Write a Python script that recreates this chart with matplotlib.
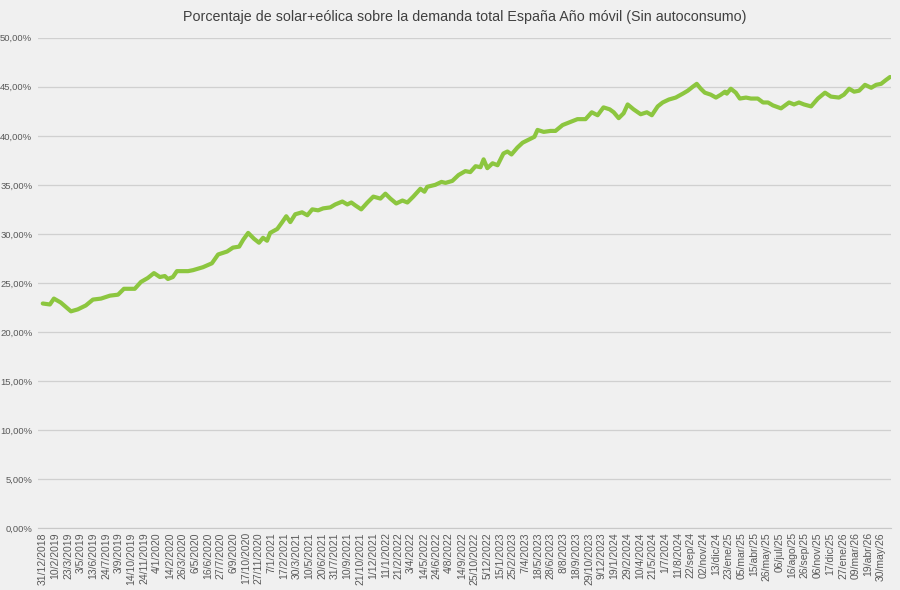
import matplotlib
matplotlib.use("Agg")
import matplotlib.pyplot as plt
from matplotlib.ticker import FuncFormatter

# days since 31/12/2018 and % of demand covered by solar+wind (rolling year)
days = [0, 23, 36, 58, 91, 113, 139, 162, 188, 217, 243, 262, 297, 317, 339, 359,
        378, 394, 404, 420, 433, 469, 485, 517, 546, 566, 595, 614, 634, 647, 663,
        682, 698, 711, 724, 734, 757, 773, 786, 799, 815, 837, 854, 870, 889, 905,
        928, 944, 967, 983, 996, 1009, 1028, 1048, 1067, 1090, 1106, 1122, 1141,
        1161, 1177, 1196, 1219, 1232, 1241, 1267, 1287, 1300, 1322, 1342, 1364,
        1380, 1397, 1413, 1423, 1435, 1452, 1468, 1487, 1500, 1513, 1532, 1549,
        1568, 1587, 1597, 1617, 1639, 1655, 1678, 1694, 1710, 1726, 1752, 1772,
        1791, 1810, 1830, 1843, 1859, 1875, 1888, 1907, 1930, 1950, 1966, 1985,
        2001, 2021, 2043, 2066, 2082, 2098, 2111, 2124, 2137, 2156, 2173, 2189,
        2202, 2208, 2221, 2237, 2250, 2270, 2286, 2308, 2325, 2341, 2357, 2383,
        2409, 2425, 2441, 2457, 2480, 2502, 2525, 2544, 2570, 2586, 2603, 2619,
        2635, 2654, 2674, 2690, 2706, 2722, 2735]
share = [22.9, 22.8, 23.4, 23.0, 22.1, 22.3, 22.7, 23.3, 23.4, 23.7, 23.8, 24.4,
         24.4, 25.1, 25.5, 26.0, 25.6, 25.7, 25.4, 25.6, 26.2, 26.2, 26.3, 26.6,
         27.0, 27.9, 28.2, 28.6, 28.7, 29.4, 30.1, 29.5, 29.1, 29.6, 29.3, 30.1,
         30.5, 31.2, 31.8, 31.2, 32.0, 32.2, 31.9, 32.5, 32.4, 32.6, 32.7, 33.0,
         33.3, 33.0, 33.2, 32.9, 32.5, 33.2, 33.8, 33.6, 34.1, 33.6, 33.1, 33.4,
         33.2, 33.8, 34.6, 34.3, 34.8, 35.0, 35.3, 35.2, 35.4, 36.0, 36.4, 36.3,
         36.9, 36.8, 37.6, 36.7, 37.2, 37.0, 38.2, 38.4, 38.1, 38.8, 39.3, 39.6,
         39.9, 40.6, 40.4, 40.5, 40.5, 41.1, 41.3, 41.5, 41.7, 41.7, 42.4, 42.1,
         42.9, 42.7, 42.4, 41.8, 42.3, 43.2, 42.7, 42.2, 42.4, 42.1, 43.0, 43.4,
         43.7, 43.9, 44.3, 44.6, 45.0, 45.3, 44.8, 44.4, 44.2, 43.9, 44.2, 44.5,
         44.3, 44.8, 44.4, 43.8, 43.9, 43.8, 43.8, 43.4, 43.4, 43.1, 42.8, 43.4,
         43.2, 43.4, 43.2, 43.0, 43.8, 44.4, 44.0, 43.9, 44.2, 44.8, 44.5, 44.6,
         45.2, 44.9, 45.2, 45.3, 45.7, 46.0]

tick_labels = ["31/12/2018", "10/2/2019", "23/3/2019", "3/5/2019", "13/6/2019",
               "24/7/2019", "3/9/2019", "14/10/2019", "24/11/2019", "4/1/2020",
               "14/2/2020", "26/3/2020", "6/5/2020", "16/6/2020", "27/7/2020",
               "6/9/2020", "17/10/2020", "27/11/2020", "7/1/2021", "17/2/2021",
               "30/3/2021", "10/5/2021", "20/6/2021", "31/7/2021", "10/9/2021",
               "21/10/2021", "1/12/2021", "11/1/2022", "21/2/2022", "3/4/2022",
               "14/5/2022", "24/6/2022", "4/8/2022", "14/9/2022", "25/10/2022",
               "5/12/2022", "15/1/2023", "25/2/2023", "7/4/2023", "18/5/2023",
               "28/6/2023", "8/8/2023", "18/9/2023", "29/10/2023", "9/12/2023",
               "19/1/2024", "29/2/2024", "10/4/2024", "21/5/2024", "1/7/2024",
               "11/8/2024", "22/sep/24", "02/nov/24", "13/dic/24", "23/ene/25",
               "05/mar/25", "15/abr/25", "26/may/25", "06/jul/25", "16/ago/25",
               "26/sep/25", "06/nov/25", "17/dic/25", "27/ene/26", "09/mar/26",
               "19/abr/26", "30/may/26"]
tick_step = 41  # one label every 41 days

plt.rcParams['font.family'] = ['Liberation Sans Narrow', 'Liberation Sans', 'DejaVu Sans']

bg = "#f0f0f0"
fig = plt.figure(figsize=(9, 5.9), dpi=100, facecolor=bg)
ax = fig.add_axes([0.042, 0.105, 0.948, 0.831], facecolor=bg)

ax.plot(days, share, color="#8cc63f", linewidth=3.0, solid_capstyle="round",
        solid_joinstyle="round")

ax.set_ylim(0, 50)
ax.set_yticks(range(0, 51, 5))
ax.yaxis.set_major_formatter(FuncFormatter(lambda v, p: f"{v:.2f}%".replace(".", ",")))
ax.set_xlim(-16, 2738)
ax.set_xticks([i * tick_step for i in range(len(tick_labels))])
ax.set_xticklabels(tick_labels, rotation=90)

ax.grid(axis="y", color="#d0d0d0", linewidth=0.9)
ax.set_axisbelow(True)
for s in ["top", "right", "left"]:
    ax.spines[s].set_visible(False)
ax.spines["bottom"].set_color("#c8c8c8")
ax.tick_params(axis="both", length=0, labelcolor="#595959")
ax.tick_params(axis="y", pad=4, labelsize=6.8)
ax.tick_params(axis="x", pad=3, labelsize=7.5)

ax.set_title("Porcentaje de solar+eólica sobre la demanda total España Año móvil (Sin autoconsumo)",
             fontsize=10.3, color="#404040", pad=12)

fig.savefig("out.png", dpi=100, facecolor=bg)
